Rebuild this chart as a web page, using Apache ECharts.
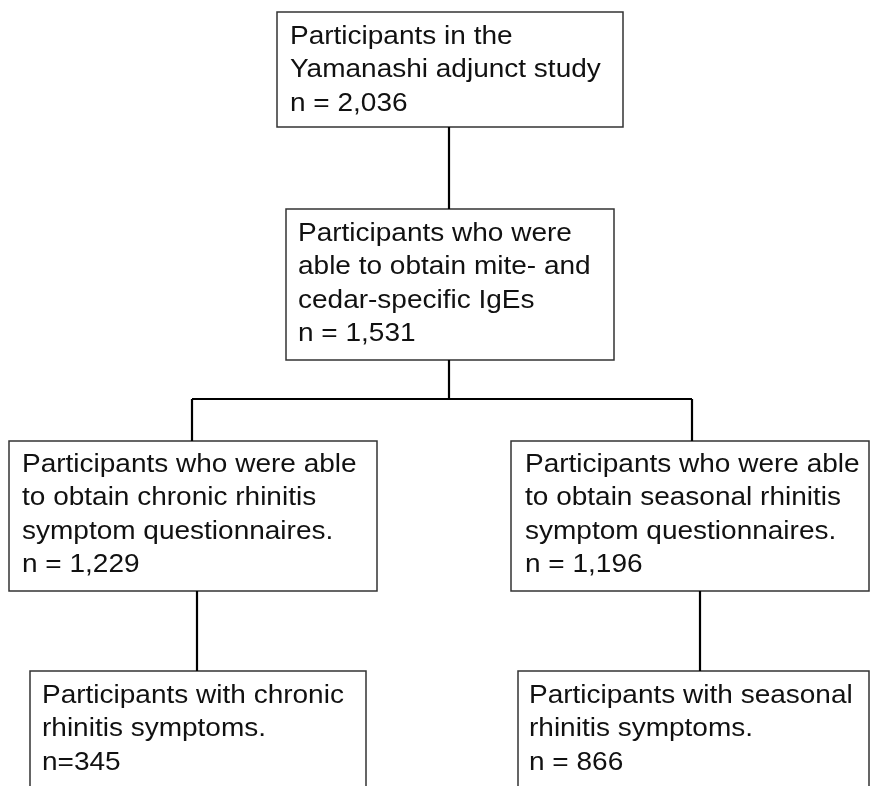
<!DOCTYPE html>
<html>
<head>
<meta charset="utf-8">
<script src="https://cdn.jsdelivr.net/npm/echarts@6/dist/echarts.min.js"></script>
<style>
html,body{margin:0;padding:0;background:#fff;}
#chart{width:870px;height:786px;}
</style>
</head>
<body>
<div id="chart"></div>
<script>
// ---- content (data) ----
const boxLines = [
  ["Participants in the", "Yamanashi adjunct study"],
  ["Participants who were", "able to obtain mite- and", "cedar-specific IgEs"],
  ["Participants who were able", "to obtain chronic rhinitis", "symptom questionnaires."],
  ["Participants who were able", "to obtain seasonal rhinitis", "symptom questionnaires."],
  ["Participants with chronic", "rhinitis symptoms."],
  ["Participants with seasonal", "rhinitis symptoms."]
];
const counts = ["n = 2,036", "n = 1,531", "n = 1,229", "n = 1,196", "n=345", "n = 866"];
// parent index of each box (-1 = root)
const parents = [-1, 0, 1, 1, 2, 3];

// ---- layout (positions / styles) ----
const layout = [
  {x: 277, y: 12,  w: 346, h: 115, tx: 290, b0: 46},
  {x: 286, y: 209, w: 328, h: 151, tx: 298, b0: 243},
  {x: 9,   y: 441, w: 368, h: 150, tx: 22,  b0: 474},
  {x: 511, y: 441, w: 358, h: 150, tx: 525, b0: 474},
  {x: 30,  y: 671, w: 336, h: 140, tx: 42,  b0: 705},
  {x: 518, y: 671, w: 351, h: 140, tx: 529, b0: 705}
];
const connectors = [
  // [fromBox, childX-top, childX-bottom-of-parent]
];
const lineGap = 33.5;
const fontSize = 25;
const stretch = 1.12;
const splitY = 399;

const graphic = [];
layout.forEach((b, i) => {
  graphic.push({
    type: 'rect',
    shape: {x: b.x, y: b.y, width: b.w, height: b.h},
    style: {fill: '#fff', stroke: '#333', lineWidth: 1.5}
  });
  const lines = boxLines[i].concat([counts[i]]);
  lines.forEach((t, k) => {
    graphic.push({
      type: 'text',
      x: b.tx,
      y: b.b0 + k * lineGap - 9,
      scaleX: stretch,
      style: {
        x: 0, y: 0, text: t,
        fontSize: fontSize,
        fontFamily: 'Liberation Sans, Arial, Helvetica, sans-serif',
        fill: '#111',
        align: 'left',
        verticalAlign: 'middle'
      }
    });
  });
});

function seg(x1, y1, x2, y2) {
  graphic.push({
    type: 'line',
    shape: {x1, y1, x2, y2},
    style: {stroke: '#000', lineWidth: 2.2}
  });
}
// connection x positions
const topX = [449, 449, 192, 692, 197, 700];
const bottomX = [449, 449, 197, 700];
// root -> box 1
seg(bottomX[0], layout[0].y + layout[0].h, topX[1], layout[1].y);
// box1 -> split
seg(bottomX[1], layout[1].y + layout[1].h, bottomX[1], splitY);
seg(topX[2], splitY, topX[3], splitY);
seg(topX[2], splitY, topX[2], layout[2].y);
seg(topX[3], splitY, topX[3], layout[3].y);
// box2 -> box4, box3 -> box5
seg(bottomX[2], layout[2].y + layout[2].h, topX[4], layout[4].y);
seg(bottomX[3], layout[3].y + layout[3].h, topX[5], layout[5].y);

// put lines underneath boxes? lines end at box edges, order not important
const chart = echarts.init(document.getElementById('chart'), null, {renderer: 'canvas'});
chart.setOption({
  backgroundColor: '#fff',
  animation: false,
  graphic: graphic
});
</script>
</body>
</html>
